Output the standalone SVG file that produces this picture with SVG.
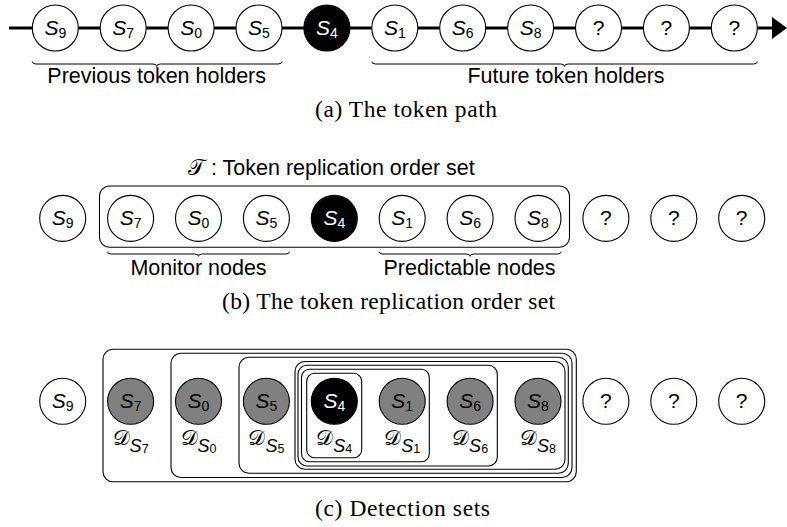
<svg xmlns="http://www.w3.org/2000/svg" width="787" height="527" viewBox="0 0 787 527">
<style>
.n{fill:#fff;stroke:#000;stroke-width:1.1}
.g{fill:#808080;stroke:#000;stroke-width:1.1}
.k{fill:#000;stroke:#000;stroke-width:1.1}
.box{fill:none;stroke:#000;stroke-width:1.1}
.lbl{font-family:"Liberation Sans",Arial,sans-serif;font-size:21px;fill:#000;text-anchor:middle}
.w{fill:#fff}
.it{font-style:italic}
.sub{font-size:14px}
.txt{font-family:"Liberation Sans",Arial,sans-serif;font-size:21.5px;fill:#000}
.cap{font-family:"Liberation Serif","Times New Roman",serif;font-size:23.5px;fill:#000}
.cal{font-family:"DejaVu Serif","DejaVu Sans","Noto Sans",serif}
.dl{font-family:"Liberation Sans",Arial,sans-serif;font-size:18px;fill:#000;text-anchor:middle}
.dc{font-size:21px}
.ss{font-size:12.5px}
.brace{fill:none;stroke:#000;stroke-width:1}
.path{stroke:#000;stroke-width:3;fill:none}
</style>
<defs>
<marker id="arr" markerUnits="userSpaceOnUse" viewBox="0 0 15 22" refX="0" refY="11" markerWidth="15" markerHeight="22" orient="auto">
<path d="M0,0 L15,11 L0,22 z" fill="#000"/>
</marker>
</defs>

<!-- (a) token path connectors -->
<g id="connectors">
<line class="path" x1="9" y1="28" x2="32.3" y2="28"/>
<line class="path" x1="78.3" y1="28" x2="100.2" y2="28"/>
<line class="path" x1="146.2" y1="28" x2="168.1" y2="28"/>
<line class="path" x1="214.1" y1="28" x2="236" y2="28"/>
<line class="path" x1="282" y1="28" x2="303.9" y2="28"/>
<line class="path" x1="349.9" y1="28" x2="371.8" y2="28"/>
<line class="path" x1="417.8" y1="28" x2="439.7" y2="28"/>
<line class="path" x1="485.7" y1="28" x2="507.6" y2="28"/>
<line class="path" x1="553.6" y1="28" x2="575.5" y2="28"/>
<line class="path" x1="621.5" y1="28" x2="643.4" y2="28"/>
<line class="path" x1="689.4" y1="28" x2="711.3" y2="28"/>
<line class="path" x1="757.3" y1="28" x2="772" y2="28" marker-end="url(#arr)"/>
</g>

<g id="a-nodes">
<g id="a-S9"><circle class="n" cx="55.3" cy="28" r="23"/><text class="lbl" x="55.3" y="35"><tspan class="it">S</tspan><tspan class="sub" dy="2.5">9</tspan></text></g>
<g id="a-S7"><circle class="n" cx="123.2" cy="28" r="23"/><text class="lbl" x="123.2" y="35"><tspan class="it">S</tspan><tspan class="sub" dy="2.5">7</tspan></text></g>
<g id="a-S0"><circle class="n" cx="191.1" cy="28" r="23"/><text class="lbl" x="191.1" y="35"><tspan class="it">S</tspan><tspan class="sub" dy="2.5">0</tspan></text></g>
<g id="a-S5"><circle class="n" cx="259" cy="28" r="23"/><text class="lbl" x="259" y="35"><tspan class="it">S</tspan><tspan class="sub" dy="2.5">5</tspan></text></g>
<g id="a-S4"><circle class="k" cx="326.9" cy="28" r="23"/><text class="lbl w" x="326.9" y="35"><tspan class="it">S</tspan><tspan class="sub" dy="2.5">4</tspan></text></g>
<g id="a-S1"><circle class="n" cx="394.8" cy="28" r="23"/><text class="lbl" x="394.8" y="35"><tspan class="it">S</tspan><tspan class="sub" dy="2.5">1</tspan></text></g>
<g id="a-S6"><circle class="n" cx="462.7" cy="28" r="23"/><text class="lbl" x="462.7" y="35"><tspan class="it">S</tspan><tspan class="sub" dy="2.5">6</tspan></text></g>
<g id="a-S8"><circle class="n" cx="530.6" cy="28" r="23"/><text class="lbl" x="530.6" y="35"><tspan class="it">S</tspan><tspan class="sub" dy="2.5">8</tspan></text></g>
<g id="a-q1"><circle class="n" cx="598.5" cy="28" r="23"/><text class="lbl" x="598.5" y="35">?</text></g>
<g id="a-q2"><circle class="n" cx="666.4" cy="28" r="23"/><text class="lbl" x="666.4" y="35">?</text></g>
<g id="a-q3"><circle class="n" cx="734.3" cy="28" r="23"/><text class="lbl" x="734.3" y="35">?</text></g>
</g>

<g id="a-braces">
<path class="brace" d="M32.3,61.5 Q32.3,64 36,64 L153,64 Q156.7,64 156.7,66.5 Q156.7,64 160.4,64 L278,64 Q282,64 282,61.5"/>
<path class="brace" d="M371.8,61.5 Q371.8,64 375.5,64 L560.8,64 Q564.5,64 564.5,66.5 Q564.5,64 568.2,64 L753.5,64 Q757.3,64 757.3,61.5"/>
<text class="txt" x="156.7" y="82.7" text-anchor="middle">Previous token holders</text>
<text class="txt" x="566" y="82.7" text-anchor="middle">Future token holders</text>
</g>
<text class="cap" x="315" y="116.5" textLength="182">(a) The token path</text>

<!-- (b) -->
<text class="txt" x="188" y="175"><tspan class="cal">𝒯</tspan> : Token replication order set</text>
<rect id="b-set" class="box" x="99.5" y="186" width="470" height="61.3" rx="10"/>
<g id="b-nodes">
<g id="b-S9"><circle class="n" cx="62.7" cy="218.4" r="23"/><text class="lbl" x="62.7" y="225.4"><tspan class="it">S</tspan><tspan class="sub" dy="2.5">9</tspan></text></g>
<g id="b-S7"><circle class="n" cx="130.6" cy="218.4" r="23"/><text class="lbl" x="130.6" y="225.4"><tspan class="it">S</tspan><tspan class="sub" dy="2.5">7</tspan></text></g>
<g id="b-S0"><circle class="n" cx="198.5" cy="218.4" r="23"/><text class="lbl" x="198.5" y="225.4"><tspan class="it">S</tspan><tspan class="sub" dy="2.5">0</tspan></text></g>
<g id="b-S5"><circle class="n" cx="266.4" cy="218.4" r="23"/><text class="lbl" x="266.4" y="225.4"><tspan class="it">S</tspan><tspan class="sub" dy="2.5">5</tspan></text></g>
<g id="b-S4"><circle class="k" cx="334.3" cy="218.4" r="23"/><text class="lbl w" x="334.3" y="225.4"><tspan class="it">S</tspan><tspan class="sub" dy="2.5">4</tspan></text></g>
<g id="b-S1"><circle class="n" cx="402.2" cy="218.4" r="23"/><text class="lbl" x="402.2" y="225.4"><tspan class="it">S</tspan><tspan class="sub" dy="2.5">1</tspan></text></g>
<g id="b-S6"><circle class="n" cx="470.1" cy="218.4" r="23"/><text class="lbl" x="470.1" y="225.4"><tspan class="it">S</tspan><tspan class="sub" dy="2.5">6</tspan></text></g>
<g id="b-S8"><circle class="n" cx="538" cy="218.4" r="23"/><text class="lbl" x="538" y="225.4"><tspan class="it">S</tspan><tspan class="sub" dy="2.5">8</tspan></text></g>
<g id="b-q1"><circle class="n" cx="605.9" cy="218.4" r="23"/><text class="lbl" x="605.9" y="225.4">?</text></g>
<g id="b-q2"><circle class="n" cx="673.8" cy="218.4" r="23"/><text class="lbl" x="673.8" y="225.4">?</text></g>
<g id="b-q3"><circle class="n" cx="741.7" cy="218.4" r="23"/><text class="lbl" x="741.7" y="225.4">?</text></g>
</g>
<g id="b-braces">
<path class="brace" d="M107.6,251.7 Q107.6,254 111.3,254 L194.6,254 Q198.5,254 198.5,256.3 Q198.5,254 202.4,254 L285.7,254 Q289.4,254 289.4,251.7"/>
<path class="brace" d="M379.2,251.7 Q379.2,254 382.9,254 L466.2,254 Q470.1,254 470.1,256.3 Q470.1,254 474,254 L557.3,254 Q561,254 561,251.7"/>
<text class="txt" x="198.5" y="275" text-anchor="middle">Monitor nodes</text>
<text class="txt" x="469.5" y="275" text-anchor="middle">Predictable nodes</text>
</g>
<text class="cap" x="222" y="309" textLength="333">(b) The token replication order set</text>

<!-- (c) -->
<g id="c-sets">
<rect id="set-S7" class="box" x="103" y="349.3" width="473.3" height="132.4" rx="10"/>
<rect id="set-S0" class="box" x="171" y="353.3" width="401" height="124.2" rx="10"/>
<rect id="set-S5" class="box" x="239" y="357.3" width="329.3" height="116" rx="10"/>
<rect id="set-S8" class="box" x="295" y="361.5" width="270" height="107.8" rx="10"/>
<rect id="set-S6" class="box" x="298" y="365.3" width="199.3" height="100.7" rx="9"/>
<rect id="set-S1" class="box" x="301.5" y="369.3" width="127.8" height="92.4" rx="8"/>
<rect id="set-S4" class="box" x="306.7" y="373.3" width="55" height="84.4" rx="8"/>
</g>
<g id="c-nodes">
<g id="c-S9"><circle class="n" cx="62.7" cy="401.3" r="23"/><text class="lbl" x="62.7" y="408.3"><tspan class="it">S</tspan><tspan class="sub" dy="2.5">9</tspan></text></g>
<g id="c-S7"><circle class="g" cx="130.6" cy="401.3" r="23"/><text class="lbl" x="130.6" y="408.3"><tspan class="it">S</tspan><tspan class="sub" dy="2.5">7</tspan></text><text class="dl" x="130.6" y="445"><tspan class="cal dc">𝒟</tspan><tspan class="it" dy="7">S</tspan><tspan class="ss" dy="0.5">7</tspan></text></g>
<g id="c-S0"><circle class="g" cx="198.5" cy="401.3" r="23"/><text class="lbl" x="198.5" y="408.3"><tspan class="it">S</tspan><tspan class="sub" dy="2.5">0</tspan></text><text class="dl" x="198.5" y="445"><tspan class="cal dc">𝒟</tspan><tspan class="it" dy="7">S</tspan><tspan class="ss" dy="0.5">0</tspan></text></g>
<g id="c-S5"><circle class="g" cx="266.4" cy="401.3" r="23"/><text class="lbl" x="266.4" y="408.3"><tspan class="it">S</tspan><tspan class="sub" dy="2.5">5</tspan></text><text class="dl" x="266.4" y="445"><tspan class="cal dc">𝒟</tspan><tspan class="it" dy="7">S</tspan><tspan class="ss" dy="0.5">5</tspan></text></g>
<g id="c-S4"><circle class="k" cx="334.3" cy="401.3" r="23"/><text class="lbl w" x="334.3" y="408.3"><tspan class="it">S</tspan><tspan class="sub" dy="2.5">4</tspan></text><text class="dl" x="334.3" y="445"><tspan class="cal dc">𝒟</tspan><tspan class="it" dy="7">S</tspan><tspan class="ss" dy="0.5">4</tspan></text></g>
<g id="c-S1"><circle class="g" cx="402.2" cy="401.3" r="23"/><text class="lbl" x="402.2" y="408.3"><tspan class="it">S</tspan><tspan class="sub" dy="2.5">1</tspan></text><text class="dl" x="402.2" y="445"><tspan class="cal dc">𝒟</tspan><tspan class="it" dy="7">S</tspan><tspan class="ss" dy="0.5">1</tspan></text></g>
<g id="c-S6"><circle class="g" cx="470.1" cy="401.3" r="23"/><text class="lbl" x="470.1" y="408.3"><tspan class="it">S</tspan><tspan class="sub" dy="2.5">6</tspan></text><text class="dl" x="470.1" y="445"><tspan class="cal dc">𝒟</tspan><tspan class="it" dy="7">S</tspan><tspan class="ss" dy="0.5">6</tspan></text></g>
<g id="c-S8"><circle class="g" cx="538" cy="401.3" r="23"/><text class="lbl" x="538" y="408.3"><tspan class="it">S</tspan><tspan class="sub" dy="2.5">8</tspan></text><text class="dl" x="538" y="445"><tspan class="cal dc">𝒟</tspan><tspan class="it" dy="7">S</tspan><tspan class="ss" dy="0.5">8</tspan></text></g>
<g id="c-q1"><circle class="n" cx="605.9" cy="401.3" r="23"/><text class="lbl" x="605.9" y="408.3">?</text></g>
<g id="c-q2"><circle class="n" cx="673.8" cy="401.3" r="23"/><text class="lbl" x="673.8" y="408.3">?</text></g>
<g id="c-q3"><circle class="n" cx="741.7" cy="401.3" r="23"/><text class="lbl" x="741.7" y="408.3">?</text></g>
</g>
<text class="cap" x="315" y="516" textLength="175">(c) Detection sets</text>
</svg>
